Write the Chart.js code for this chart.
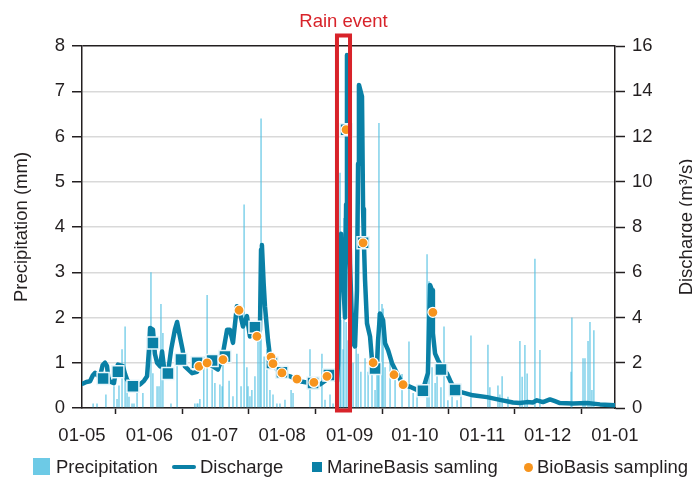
<!DOCTYPE html>
<html>
<head>
<meta charset="utf-8">
<script src="https://cdn.jsdelivr.net/npm/chart.js@4.4.1/dist/chart.umd.min.js"></script>
<style>
  html, body { margin: 0; padding: 0; background: #fff; }
  .wrap { position: relative; width: 692px; height: 477px; overflow: hidden;
          font-family: "Liberation Sans", Arial, sans-serif; }
  .wrap canvas { position: absolute; left: 0; top: 0; }
  .legend > span { position: absolute; }
  .legend .txt { top: 457px; font-size: 18.5px; line-height: 20px; color: #231f20; white-space: nowrap; }
</style>
</head>
<body>
<div class="wrap" id="wrap">
  <canvas id="chart" width="692" height="477"></canvas>
</div>
<script>
// Days are counted from 1 May; the axis runs to 1 January.
const monthDay = [0, 31, 61, 92, 123, 153, 184, 214, 245];
const monthLabel = ['01-05', '01-06', '01-07', '01-08', '01-09', '01-10', '01-11', '01-12', '01-01'];

// Daily precipitation (mm)
const precipDay = [5.1, 6.9, 11, 14.7, 16.1, 17, 18.4, 19.8, 20.7, 21.6, 23, 23.9, 25.3, 28,
  31.7, 32.6, 34.5, 35.4, 36.3, 37.2, 40.9, 43.7, 51.9, 52.9, 53.3, 54.2, 56, 57.5, 59.8, 61.1,
  63.4, 64.4, 64.8, 67.6, 69.4, 71.2, 73.1, 74.5, 75.8, 76.3, 77.2, 78.1, 79.5, 80.9, 81.8, 82.3, 83.7, 85, 86.4, 87.8, 89.6, 91,
  93.3, 96.1, 97, 104.8, 110.3, 111.7, 114, 115.4, 117.7, 118.6, 119, 120, 120.4, 121.4, 122.3,
  123.6, 124.6, 126, 126.9, 128.2, 130.1, 131.5, 133.3, 134.7, 135.6, 136.1, 136.5, 137.9, 138.4, 139.3, 141.6, 143.9, 147.1, 150.3, 152.2, 154,
  158.6, 159.5, 160.9, 162.3, 163.2, 165, 166.4, 168.2, 170.1, 172.4, 174.2, 178.8,
  186.6, 187.5, 191.2, 192.1, 193.1, 195.8, 201.3, 202.3, 203.6, 204.6, 208.2, 210.5,
  224.8, 225.2, 230.3, 231.2, 232.6, 233.5, 234.4, 235.3];
const precipMm = [0.1, 0.1, 0.3, 0.48, 0.2, 0.5, 1.3, 1.8, 0.4, 0.25, 0.1, 0.1, 0.4, 0.33,
  3.0, 0.77, 0.48, 0.48, 2.3, 1.66, 0.1, 1.14, 0.1, 0.1, 0.1, 0.2, 1.14, 2.5, 0.85, 0.55,
  0.52, 0.48, 1.3, 0.6, 0.26, 1.2, 0.48, 4.5, 0.9, 0.48, 0.26, 0.4, 0.7, 1.5, 1.8, 6.4, 1.14, 1.3, 0.4, 0.3, 0.1, 0.1,
  0.18, 0.4, 0.33, 1.3, 1.2, 0.18, 0.3, 0.1, 4.9, 5.2, 1.95, 1.3, 4.2, 1.9, 1.5,
  0.6, 1.0, 1.87, 1.2, 0.8, 1.1, 0.8, 1.0, 0.4, 0.8, 2.1, 6.3, 2.3, 2.2, 0.9, 1.05, 0.85, 0.75, 1.47, 0.33, 0.26,
  3.4, 2.8, 0.9, 0.55, 0.7, 0.46, 1.8, 0.17, 0.4, 0.17, 0.46, 1.6,
  1.4, 0.46, 0.5, 0.3, 0.7, 0.25, 1.48, 0.69, 1.39, 0.76, 3.3, 1.28,
  0.8, 2.0, 1.1, 1.1, 1.48, 1.9, 0.4, 1.72];

// River discharge (m3/s)
const dischargeDay = [0.5, 2, 3.7, 5, 6, 7, 8.3, 9.5, 10.6, 11.5, 12, 12.7, 14.7, 15.5, 16.5, 18.8, 19.8, 20.7, 23, 26.7,
  28.5, 29.9, 30.8, 31.3, 32.6, 33.5, 34.5, 35.9, 36.8, 37.8, 39.5, 41, 42.7, 43.7, 45, 46.2, 47.3, 50.6, 52.9, 54.2,
  57.5, 60.2, 62.5, 64.4, 66.7, 68, 69.4, 71.2, 72.6, 74, 75.8, 77.2, 78.6, 80.4, 81.8, 82.3, 82.7, 83.5, 84.1, 85.5,
  86.4, 89.6, 92.4, 95.6, 100.2, 104.8, 109.4, 112.6, 114, 116, 117.2, 117.7, 118.6, 119.1, 120, 120.9, 121.4, 121.8, 122.3, 123.2,
  124.1, 124.6, 125.5, 126.4, 126.9, 127.3, 128.7, 129.2, 129.6, 130.1, 131, 132.4, 133.3, 133.8, 135.6, 136.1, 137, 138.4, 139.3, 140.7,
  142.5, 144.8, 147.6, 150.8, 154, 156.7, 159, 160, 160.9, 161.3, 162.3, 163.6, 165.5, 167.8, 169.2, 171.5, 175.1, 179.7, 186.2, 192.1,
  198.1, 201.3, 204.5, 207.2, 209.1, 211.9, 215.1, 217.4, 219.7, 225.7, 232.1, 238.1, 245];
const dischargeM3s = [1.08, 1.15, 1.18, 1.45, 1.55, 1.45, 1.4, 1.9, 2.0, 1.85, 1.4, 1.18, 1.1, 1.6, 1.92, 1.85, 1.5, 1.26, 0.96, 1.04,
  1.2, 1.4, 2.6, 3.54, 3.46, 2.4, 2.0, 1.84, 2.5, 1.7, 1.54, 2.6, 3.46, 3.8, 3.16, 2.6, 1.84, 1.54, 1.6, 1.84,
  1.92, 1.84, 1.7, 2.2, 3.46, 3.46, 2.88, 4.5, 4.2, 3.6, 4.06, 3.16, 3.6, 3.16, 3.46, 7.0, 7.2, 5.5, 4.5, 3.0,
  2.28, 1.7, 1.48, 1.4, 1.18, 1.1, 1.04, 1.26, 1.4, 1.4, 1.18, 2.0, 7.58, 7.7, 5.66, 4.0, 9.0, 15.6, 12.3, 6.4,
  3.74, 2.86, 2.72, 5.2, 10.8, 14.28, 13.76, 8.8, 7.28, 5.66, 3.74, 3.16, 2.12, 1.98, 1.98, 3.0, 4.18, 3.88, 2.86, 2.56,
  1.98, 1.54, 1.02, 0.94, 0.8, 0.8, 1.54, 5.44, 5.2, 3.3, 2.4, 2.12, 1.8, 1.52, 1.22, 0.78, 0.68, 0.56, 0.48, 0.36,
  0.24, 0.22, 0.26, 0.24, 0.34, 0.26, 0.38, 0.3, 0.22, 0.2, 0.22, 0.16, 0.12];

// Sampling campaigns, placed on the discharge curve
const marineDay = [9.7, 16.5, 23.4, 32.6, 39.5, 45.5, 52.9, 59.8, 65.7, 79.5, 87.3, 91.9, 106.2, 113.5, 121.4, 129.2, 134.7, 156.7, 165, 171.5];
const marineM3s = [1.3, 1.6, 0.96, 2.87, 1.52, 2.14, 2.0, 2.1, 2.28, 3.57, 1.99, 1.58, 1.1, 1.46, 12.3, 7.3, 1.75, 0.76, 1.7, 0.8];
const bioDay = [53.8, 57.5, 64.8, 72.2, 80.4, 86.9, 87.8, 91.9, 98.8, 106.6, 112.6, 121.4, 129.2, 133.8, 143.4, 147.6, 161.3];
const bioM3s = [1.84, 1.99, 2.14, 4.32, 3.17, 2.25, 1.96, 1.55, 1.28, 1.13, 1.4, 12.3, 7.3, 2.0, 1.47, 1.03, 4.23];

// Highlighted storm window (days)
const rainEvent = [117.2, 123.2];

const INK = '#231f20';
const GRID = '#d9d9d9';
const TEAL = '#0a80a6';
const SKY = '#6dcae6';
const BAR = '#52c0e2';
const ORANGE = '#f7941d';
const RED = '#d8232a';
const FAMILY = '"Liberation Sans", Arial, sans-serif';
const font = { family: FAMILY, size: 18.5 };

const pairs = (xs, ys) => xs.map((x, i) => ({ x, y: ys[i] }));

// Box around the storm, its caption, and the right-hand axis title (reads bottom-up like the left one).
const annotations = {
  id: 'annotations',
  afterDatasetsDraw(chart) {
    const { ctx, chartArea, scales } = chart;
    const x0 = scales.x.getPixelForValue(rainEvent[0]);
    const x1 = scales.x.getPixelForValue(rainEvent[1]);
    ctx.save();
    ctx.strokeStyle = RED;
    ctx.lineWidth = 4;
    ctx.strokeRect(x0, chartArea.top - 10.5, x1 - x0, chartArea.bottom - chartArea.top + 13);
    ctx.font = `${font.size}px ${FAMILY}`;
    ctx.textAlign = 'center';
    ctx.textBaseline = 'middle';
    ctx.fillStyle = RED;
    ctx.fillText('Rain event', (x0 + x1) / 2, chartArea.top - 24);
    ctx.fillStyle = INK;
    ctx.translate(chart.width - 5, (chartArea.top + chartArea.bottom) / 2);
    ctx.rotate(-Math.PI / 2);
    ctx.fillText('Discharge (m³/s)', 0, 0);
    ctx.restore();
  },
};

new Chart(document.getElementById('chart'), {
  type: 'line',
  data: {
    datasets: [
      {
        type: 'scatter', label: 'BioBasis sampling', data: pairs(bioDay, bioM3s), yAxisID: 'yR', order: 0,
        pointStyle: 'circle', pointRadius: 5, backgroundColor: ORANGE, borderColor: '#fff', borderWidth: 1.2,
      },
      {
        type: 'scatter', label: 'MarineBasis samling', data: pairs(marineDay, marineM3s), yAxisID: 'yR', order: 1,
        pointStyle: 'rect', pointRadius: 8.5, backgroundColor: TEAL, borderColor: '#e8f6fb', borderWidth: 1.5,
      },
      {
        type: 'line', label: 'Discharge', data: pairs(dischargeDay, dischargeM3s), yAxisID: 'yR', order: 2,
        borderColor: TEAL, borderWidth: 4.5, borderJoinStyle: 'round', borderCapStyle: 'round',
        pointRadius: 0, tension: 0, fill: false,
      },
      {
        type: 'bar', label: 'Precipitation', data: pairs(precipDay, precipMm), yAxisID: 'yL', order: 3,
        backgroundColor: BAR, barThickness: 1.1, inflateAmount: 0, grouped: false,
      },
    ],
  },
  options: {
    responsive: false,
    animation: false,
    events: [],
    layout: { padding: { top: 46, bottom: 20, left: 0, right: 0 } },
    plugins: { legend: { display: false }, tooltip: { enabled: false } },
    scales: {
      x: {
        type: 'linear', min: 0, max: 245, offset: false,
        afterBuildTicks: (s) => { s.ticks = monthDay.map((value) => ({ value })); },
        afterFit: (s) => { s.height = 49; },
        grid: { drawOnChartArea: false, tickLength: 6, tickColor: INK, tickWidth: 1.5 },
        border: { color: INK, width: 1.5 },
        ticks: { color: INK, font, padding: 11, maxRotation: 0, autoSkip: false, callback: (v, i) => monthLabel[i] },
      },
      yL: {
        position: 'left', min: 0, max: 8,
        afterFit: (s) => { s.width = 82; },
        ticks: { stepSize: 1, color: INK, font, padding: 7 },
        grid: {
          color: (c) => (c.tick && c.tick.value === 8 ? INK : GRID),
          lineWidth: 1.5, tickLength: 10, tickColor: INK, tickWidth: 1.5,
        },
        border: { color: INK, width: 1.5 },
        title: { display: true, text: 'Precipitation (mm)', color: INK, font, padding: { top: 11, bottom: 0 } },
      },
      yR: {
        position: 'right', min: 0, max: 16,
        afterFit: (s) => { s.width = 77; },
        ticks: { stepSize: 2, color: INK, font, padding: 7 },
        grid: { drawOnChartArea: false, tickLength: 10, tickColor: INK, tickWidth: 1.5 },
        border: { color: INK, width: 1.5 },
      },
    },
  },
  plugins: [annotations],
});

// Legend row under the axis
function el(tag, cls, style, text) {
  const n = document.createElement(tag);
  if (cls) n.className = cls;
  if (style) n.style.cssText = style;
  if (text) n.textContent = text;
  return n;
}
const legend = el('div', 'legend');
legend.append(
  el('span', '', `left:33px;top:458px;width:17px;height:17px;background:${SKY}`),
  el('span', 'txt', 'left:56px', 'Precipitation'),
  el('span', '', `left:172px;top:465px;width:24px;height:4px;border-radius:2px;background:${TEAL}`),
  el('span', 'txt', 'left:200px', 'Discharge'),
  el('span', '', `left:312px;top:462px;width:10px;height:10px;background:${TEAL}`),
  el('span', 'txt', 'left:327px', 'MarineBasis samling'),
  el('span', '', `left:524px;top:463px;width:9px;height:9px;border-radius:50%;background:${ORANGE}`),
  el('span', 'txt', 'left:537px', 'BioBasis sampling'),
);
document.getElementById('wrap').append(legend);
</script>
</body>
</html>
